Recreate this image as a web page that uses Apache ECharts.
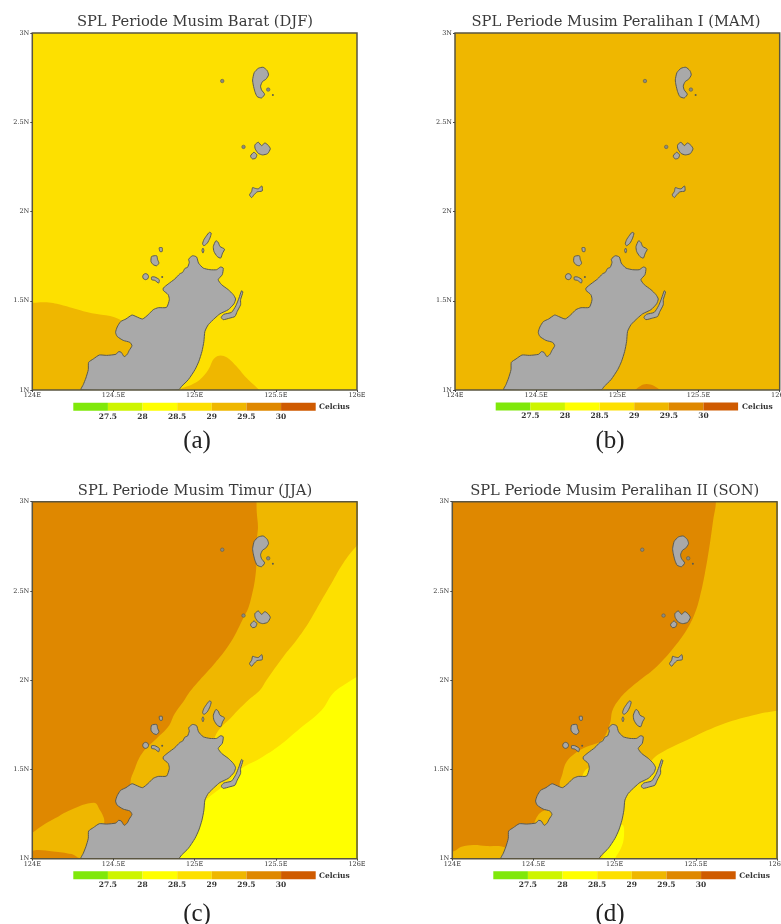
<!DOCTYPE html>
<html>
<head>
<meta charset="utf-8">
<style>
html, body { margin: 0; padding: 0; background: #fff; overflow: hidden; }
#chart { width: 781px; height: 924px; }
</style>
<script src="https://cdn.jsdelivr.net/npm/echarts@6/dist/echarts.min.js"></script>
</head>
<body>
<div id="chart"></div>
<script>
// land outlines, [lon, lat]
const mainland = [[124.300,1.000],[124.314,1.030],[124.330,1.067],[124.345,1.114],[124.347,1.155],[124.376,1.174],[124.413,1.196],[124.458,1.194],[124.515,1.200],[124.532,1.215],[124.548,1.211],[124.566,1.187],[124.585,1.200],[124.597,1.222],[124.614,1.248],[124.601,1.267],[124.560,1.278],[124.523,1.300],[124.513,1.323],[124.523,1.353],[124.544,1.383],[124.577,1.398],[124.614,1.420],[124.638,1.412],[124.679,1.398],[124.714,1.422],[124.745,1.450],[124.776,1.461],[124.827,1.463],[124.844,1.506],[124.837,1.534],[124.807,1.558],[124.807,1.571],[124.837,1.594],[124.878,1.622],[124.909,1.651],[124.926,1.659],[124.940,1.681],[124.956,1.687],[124.967,1.715],[124.963,1.733],[124.987,1.752],[125.012,1.745],[125.024,1.711],[125.053,1.683],[125.094,1.674],[125.135,1.674],[125.160,1.689],[125.176,1.683],[125.170,1.646],[125.145,1.618],[125.166,1.590],[125.207,1.562],[125.238,1.534],[125.252,1.510],[125.242,1.483],[125.207,1.450],[125.156,1.427],[125.125,1.403],[125.084,1.366],[125.063,1.328],[125.057,1.272],[125.045,1.216],[125.026,1.161],[125.002,1.114],[124.961,1.058],[124.920,1.021],[124.899,1.000]];
const lembeh = [[125.289,1.556],[125.297,1.549],[125.283,1.506],[125.283,1.478],[125.262,1.440],[125.248,1.412],[125.217,1.403],[125.176,1.394],[125.164,1.407],[125.180,1.424],[125.227,1.435],[125.254,1.472],[125.273,1.515]];
const bangka = [[125.090,1.883],[125.102,1.879],[125.094,1.851],[125.078,1.823],[125.057,1.808],[125.049,1.819],[125.057,1.842],[125.073,1.864]];
const bangkaSliver = [[125.051,1.795],[125.057,1.782],[125.051,1.767],[125.045,1.782]];
const talise = [[125.131,1.836],[125.145,1.827],[125.156,1.804],[125.184,1.789],[125.172,1.767],[125.160,1.739],[125.139,1.748],[125.119,1.776],[125.115,1.804]];
const islet1 = [[124.782,1.797],[124.800,1.797],[124.800,1.776],[124.786,1.776]];
const manadoTua = [[124.735,1.748],[124.766,1.752],[124.772,1.730],[124.780,1.711],[124.766,1.696],[124.745,1.702],[124.731,1.720]];
const siladen = [[124.716,1.635],[124.711,1.647],[124.698,1.652],[124.685,1.647],[124.680,1.635],[124.685,1.623],[124.698,1.618],[124.711,1.623]];
const mantehage = [[124.735,1.633],[124.755,1.633],[124.782,1.618],[124.778,1.599],[124.755,1.614],[124.735,1.618]];
const siau = [[125.392,2.802],[125.422,2.808],[125.447,2.789],[125.455,2.765],[125.439,2.741],[125.418,2.728],[125.406,2.703],[125.412,2.681],[125.431,2.657],[125.412,2.636],[125.385,2.644],[125.371,2.672],[125.361,2.709],[125.357,2.737],[125.367,2.778]];
const tagulandang = [[125.392,2.388],[125.412,2.369],[125.433,2.384],[125.455,2.369],[125.466,2.351],[125.449,2.324],[125.418,2.317],[125.392,2.326],[125.373,2.351],[125.371,2.373]];
const ruang = [[125.365,2.332],[125.383,2.317],[125.375,2.298],[125.355,2.295],[125.344,2.311]];
const biaro = [[125.414,2.143],[125.416,2.115],[125.385,2.110],[125.365,2.093],[125.351,2.078],[125.338,2.093],[125.351,2.112],[125.357,2.134],[125.371,2.130],[125.392,2.127]];
const islandDots = [[125.170,2.731],[125.453,2.683],[125.301,2.362]];
const tinyDots = [[125.482,2.653],[124.800,1.633]];

// temperature zones, [lon, lat]; land is painted over them, ends run past the frame and get clipped
const djfWarmWest = [[123.800,1.489],[124.000,1.489],[124.088,1.491],[124.191,1.474],[124.335,1.437],[124.560,1.384],[124.725,1.207],[124.300,0.900],[123.800,0.900]];
const djfWarmSouth = [[124.850,0.900],[124.909,1.000],[124.981,1.030],[125.032,1.058],[125.084,1.114],[125.125,1.181],[125.180,1.190],[125.248,1.142],[125.320,1.067],[125.398,1.000],[125.500,0.900]];
const mamWarmSouth = [[125.050,0.950],[125.108,1.000],[125.180,1.034],[125.267,1.000],[125.330,0.950]];
const jjaBand295 = [[125.381,3.200],[125.381,3.000],[125.383,2.935],[125.390,2.860],[125.385,2.804],[125.381,2.655],[125.371,2.561],[125.355,2.487],[125.330,2.403],[125.299,2.347],[125.248,2.253],[125.197,2.179],[125.115,2.085],[125.032,2.001],[124.971,1.936],[124.930,1.879],[124.878,1.814],[124.837,1.739],[124.766,1.674],[124.683,1.599],[124.632,1.506],[124.608,1.412],[124.725,1.207],[124.900,0.800],[126.300,0.800],[126.300,3.200]];
const jjaBlob295 = [[123.800,1.030],[124.000,1.146],[124.068,1.189],[124.140,1.226],[124.232,1.272],[124.380,1.314],[124.417,1.272],[124.441,1.226],[124.441,1.189],[124.417,1.105],[124.300,1.006],[124.242,1.026],[124.129,1.041],[124.037,1.049],[124.000,1.045],[123.800,1.040]];
const jjaBand29 = [[126.200,2.950],[126.000,2.754],[125.915,2.655],[125.843,2.543],[125.771,2.431],[125.700,2.319],[125.628,2.225],[125.546,2.132],[125.443,2.001],[125.402,1.944],[125.330,1.888],[125.238,1.804],[125.125,1.683],[125.000,1.300],[124.900,0.900],[126.300,0.800],[126.300,2.950]];
const jjaBand285 = [[126.200,2.120],[126.000,2.020],[125.936,1.983],[125.853,1.927],[125.782,1.832],[125.648,1.730],[125.525,1.636],[125.402,1.562],[125.289,1.506],[125.217,1.440],[125.000,1.250],[124.900,0.900],[126.300,0.800],[126.300,2.120]];
const sonBand295 = [[125.624,3.200],[125.624,3.000],[125.607,2.897],[125.587,2.767],[125.556,2.599],[125.525,2.468],[125.494,2.375],[125.443,2.281],[125.361,2.179],[125.258,2.076],[125.156,2.001],[125.094,1.955],[125.032,1.898],[124.987,1.832],[124.971,1.758],[124.920,1.664],[124.827,1.627],[124.755,1.590],[124.704,1.543],[124.679,1.478],[124.663,1.403],[124.750,1.200],[124.900,0.800],[126.300,0.800],[126.300,3.200]];
const sonBay295 = [[124.499,1.189],[124.550,1.263],[124.622,1.263],[124.622,1.179],[124.509,1.179]];
const sonWest295 = [[123.800,1.020],[124.000,1.039],[124.057,1.067],[124.129,1.077],[124.211,1.071],[124.324,1.063],[124.400,1.000],[124.324,0.900],[123.800,0.900]];
const sonBand29 = [[126.200,1.850],[126.000,1.829],[125.853,1.804],[125.648,1.748],[125.443,1.664],[125.279,1.590],[125.227,1.549],[125.000,1.250],[124.900,0.900],[126.300,0.800],[126.300,1.850]];
const sonCove29 = [[124.803,1.463],[124.833,1.506],[124.858,1.488],[124.837,1.450]];
const sonSliver285 = [[125.049,1.189],[125.057,1.123],[125.039,1.058],[125.002,1.000],[124.960,0.900],[124.890,0.900],[125.000,1.150]];

const xTicks = [124, 124.5, 125, 125.5, 126];
const yTicks = [1, 1.5, 2, 2.5, 3];
const legendLevels = [27, 27.5, 28, 28.5, 29, 29.5, 30];
const legendColors = ['#7fe80a', '#cdf500', '#ffff00', '#fde000', '#efb700', '#df8800', '#cf5a00'];
const panelTitles = ['SPL Periode Musim Barat (DJF)', 'SPL Periode Musim Peralihan I (MAM)', 'SPL Periode Musim Timur (JJA)', 'SPL Periode Musim Peralihan II (SON)'];
const panelLetters = ['(a)', '(b)', '(c)', '(d)'];

const landShapes = [mainland, lembeh, bangka, bangkaSliver, talise, islet1, manadoTua, siladen, mantehage, siau, tagulandang, ruang, biaro];
const C285 = legendColors[2], C29 = legendColors[3], C295 = legendColors[4], C30 = legendColors[5];
const wholeMap = [[124, 1], [126, 1], [126, 3], [124, 3]];

const panels = [
    {
        left: 32.3, top: 33, barLeft: 73.3, barTop: 402.7, titleX: 195, titleY: 15, unitX: 319, unitY: 403, letterX: 197, letterY: 429,
        zones: [[djfWarmWest, C295], [djfWarmSouth, C295]], base: C29,
    },
    {
        left: 455, top: 33, barLeft: 495.7, barTop: 402.5, titleX: 616, titleY: 15, unitX: 742, unitY: 403, letterX: 610, letterY: 429,
        zones: [[mamWarmSouth, C30]], base: C295,
    },
    {
        left: 32.3, top: 501.7, barLeft: 73.3, barTop: 871.3, titleX: 195, titleY: 484, unitX: 319, unitY: 872, letterX: 197, letterY: 902,
        zones: [[jjaBand295, C295], [jjaBlob295, C295], [jjaBand29, C29], [jjaBand285, C285]], base: C30,
    },
    {
        left: 452.3, top: 501.7, barLeft: 493.3, barTop: 871.3, titleX: 614.7, titleY: 484, unitX: 739.3, unitY: 872, letterX: 610, letterY: 902,
        zones: [[sonBand295, C295], [sonBay295, C295], [sonWest295, C295], [sonBand29, C29], [sonCove29, C29], [sonSliver285, C285]], base: C30,
    },
]

const axisFont = { fontFamily: 'DejaVu Serif', fontSize: 6.5, color: '#333' }

function polygonSeries(points, gridIndex, fill, stroke, lineWidth, smooth) {
    return {
        type: 'custom',
        coordinateSystem: 'cartesian2d',
        xAxisIndex: gridIndex,
        yAxisIndex: gridIndex,
        clip: fill !== 'none',
        silent: true,
        animation: false,
        data: points,
        encode: { x: 0, y: 1 },
        renderItem: function (params, api) {
            if (params.dataIndex !== 0) {
                return null
            }
            return {
                type: 'polygon',
                shape: { points: points.map(p => api.coord(p)), smooth: smooth },
                style: { fill: fill, stroke: stroke, lineWidth: lineWidth },
            }
        },
    }
}

const grid = [], xAxis = [], yAxis = [], series = [], title = []

panels.forEach((panel, i) => {
    grid.push({ left: panel.left, top: panel.top, width: 324.7, height: 357, outerBoundsMode: 'none' })
    xAxis.push({
        gridIndex: i, type: 'value', min: xTicks[0], max: xTicks[4], interval: 0.5, z: 5,
        axisLine: { show: false },
        axisTick: { length: 2, lineStyle: { color: '#444', width: 1 } },
        axisLabel: Object.assign({ margin: 2, formatter: v => v + 'E' }, axisFont),
        splitLine: { show: false },
    })
    yAxis.push({
        gridIndex: i, type: 'value', min: yTicks[0], max: yTicks[4], interval: 0.5, z: 5,
        axisLine: { show: false },
        axisTick: { length: 2, lineStyle: { color: '#444', width: 1 } },
        axisLabel: Object.assign({ margin: 3, formatter: v => v + 'N' }, axisFont),
        splitLine: { show: false },
    })
    series.push(polygonSeries(wholeMap, i, panel.base, null, 0, 0))
    panel.zones.forEach(zone => {
        series.push(polygonSeries(zone[0], i, zone[1], null, 0, 0.4))
    })
    landShapes.forEach(shape => {
        series.push(polygonSeries(shape, i, '#a9a9a9', '#5a5a50', 1, 0.2))
    })
    series.push({
        type: 'scatter', xAxisIndex: i, yAxisIndex: i, data: islandDots, symbolSize: 3.5, silent: true, animation: false,
        itemStyle: { color: '#8a8a80', borderColor: '#5a5a50', borderWidth: 0.6, opacity: 1 },
    })
    series.push({
        type: 'scatter', xAxisIndex: i, yAxisIndex: i, data: tinyDots, symbolSize: 2, silent: true, animation: false,
        itemStyle: { color: '#5a5a50', opacity: 1 },
    })
    series.push(polygonSeries(wholeMap, i, 'none', '#5a5540', 1.5, 0))

    title.push({
        text: panelTitles[i], left: panel.titleX, top: panel.titleY, textAlign: 'center',
        textStyle: { fontFamily: 'DejaVu Serif', fontSize: 14.7, fontWeight: 'normal', color: '#3a3a3a' },
        padding: 0,
    })
    title.push({
        text: 'Celcius', left: panel.unitX, top: panel.unitY, padding: 0,
        textStyle: { fontFamily: 'DejaVu Serif', fontSize: 7.5, fontWeight: 'bold', color: '#333' },
    })
    title.push({
        text: panelLetters[i], left: panel.letterX, top: panel.letterY, textAlign: 'center', padding: 0,
        textStyle: { fontFamily: 'Liberation Serif', fontSize: 25, fontWeight: 'normal', color: '#222' },
    })
})

// colour bars
panels.forEach((panel, i) => {
    const g = grid.length
    grid.push({ left: panel.barLeft, top: panel.barTop, width: 242.4, height: 8, outerBoundsMode: 'none' })
    xAxis.push({
        gridIndex: g, type: 'value', min: 27, max: 30.5, interval: 0.5,
        axisLine: { show: false },
        axisTick: { show: false },
        axisLabel: {
            margin: 2, fontFamily: 'DejaVu Serif', fontSize: 7.5, fontWeight: 'bold', color: '#333',
            formatter: v => (v === 27 || v === 30.5) ? '' : String(v),
        },
        splitLine: { show: false },
    })
    yAxis.push({ gridIndex: g, type: 'value', min: 0, max: 1, show: false })
    series.push({
        type: 'custom',
        coordinateSystem: 'cartesian2d',
        xAxisIndex: g,
        yAxisIndex: g,
        silent: true,
        animation: false,
        data: legendLevels,
        encode: { x: 0 },
        renderItem: function (params, api) {
            const low = legendLevels[params.dataIndex]
            const a = api.coord([low, 1])
            const b = api.coord([low + 0.5, 0])
            return {
                type: 'rect',
                shape: { x: a[0], y: a[1], width: b[0] - a[0], height: b[1] - a[1] },
                style: { fill: legendColors[params.dataIndex] },
            }
        },
    })
})

const chart = echarts.init(document.getElementById('chart'), null, { renderer: 'canvas' })
chart.setOption({ animation: false, backgroundColor: '#fff', title, grid, xAxis, yAxis, series })
</script>
</body>
</html>
